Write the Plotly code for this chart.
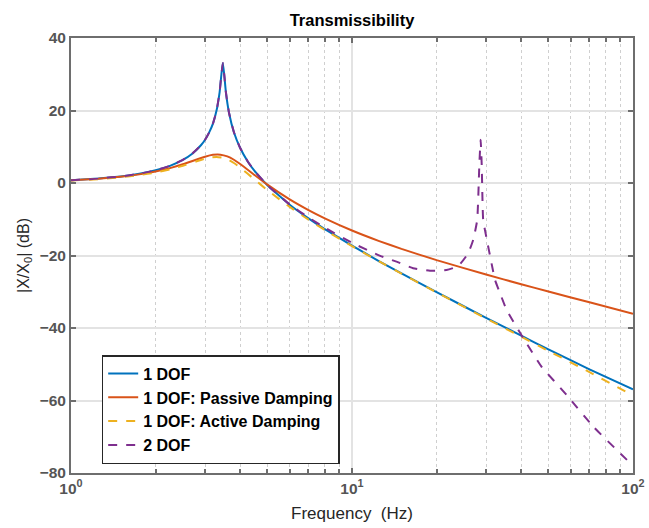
import plotly.graph_objects as go

# ---- data (frequency in Hz, magnitude in dB) ----
f_1dof = [1.0, 1.25, 1.5, 1.75, 2.0, 2.25, 2.5, 2.7, 2.9, 3.0, 3.1, 3.2, 3.3, 3.38, 3.43, 3.47,
          3.51, 3.56, 3.65, 3.8, 4.0, 4.25, 4.5, 5.0, 6.0, 7.0, 8.0, 10, 12.5, 15, 20, 30, 40, 50, 70, 100]
db_1dof = [0.75, 1.21, 1.80, 2.55, 3.50, 4.74, 6.36, 8.08, 10.41, 11.95, 13.90, 16.4, 20.2, 25.1, 30.0, 33.1,
           29.9, 24.9, 19.4, 14.0, 9.66, 6.02, 3.33, -0.64, -5.98, -9.74, -12.70, -17.27, -21.6, -24.95, -30.1,
           -37.2, -42.1, -45.9, -51.4, -56.9]

f_passive = [1.0, 1.25, 1.5, 1.75, 2.0, 2.25, 2.5, 2.8, 3.0, 3.2, 3.4, 3.6, 3.8, 4.0, 4.5, 5.0, 6.0, 7.0,
             8.0, 10, 12.5, 15, 20, 30, 40, 50, 70, 100]
db_passive = [0.74, 1.17, 1.72, 2.38, 3.18, 4.11, 5.16, 6.48, 7.26, 7.77, 7.82, 7.33, 6.41, 5.25, 2.21, -0.46,
              -4.53, -7.48, -9.75, -13.10, -16.02, -18.18, -21.28, -25.25, -27.92, -29.93, -32.92, -36.06]

f_active = [1.0, 1.25, 1.5, 1.75, 2.0, 2.25, 2.5, 2.8, 3.0, 3.15, 3.3, 3.5, 3.65, 3.8, 4.0, 4.5, 5.0, 6.0,
            7.0, 8.0, 10, 12.5, 15, 20, 30, 40, 50, 70, 100]
db_active = [0.67, 1.06, 1.56, 2.17, 2.90, 3.76, 4.75, 5.98, 6.70, 7.07, 7.20, 6.89, 6.32, 5.52, 4.26, 0.96,
             -1.97, -6.59, -10.10, -12.94, -17.41, -21.65, -25.0, -30.19, -37.37, -42.41, -46.31, -52.17, -58.6]

f_2dof = [1.0, 1.25, 1.5, 1.75, 2.0, 2.25, 2.5, 2.7, 2.9, 3.0, 3.1, 3.2, 3.3, 3.38, 3.43, 3.47,
          3.51, 3.56, 3.65, 3.8, 4.0, 4.25, 4.5, 5.0, 6.0, 7.0, 8.0, 10, 12.6, 14.4, 16.5, 18.95, 21.7,
          23.9, 25.9, 27.0, 27.9, 28.4, 28.7, 28.95, 29.3, 30.2, 31.4, 32.3, 33.6, 35.5, 40.7, 47.3,
          58.1, 72.2, 100]
db_2dof = [0.75, 1.21, 1.80, 2.55, 3.50, 4.74, 6.36, 8.08, 10.41, 11.95, 13.90, 16.4, 20.2, 25.1, 30.0, 33.1,
           29.9, 24.9, 19.4, 14.0, 9.66, 6.02, 3.33, -0.6, -5.9, -9.5, -12.3, -16.5, -20.1, -21.7, -23.5,
           -24.2, -24.0, -22.9, -19.4, -15.7, -10.2, 5.4, 11.9, 5.0, -10.2, -15.7, -22.3, -26.8, -30.3,
           -35.0, -42.8, -50.7, -58.5, -67.2, -78.0]

x_tickvals = [1, 10, 100]
x_ticktext = ["10<sup>0</sup>", "10<sup>1</sup>", "10<sup>2</sup>"]
x_minor = [2, 3, 4, 5, 6, 7, 8, 9, 20, 30, 40, 50, 60, 70, 80, 90]
y_tickvals = [-80, -60, -40, -20, 0, 20, 40]

series = [
    ("1 DOF", f_1dof, db_1dof, "#0072BD", "solid"),
    ("1 DOF: Passive Damping", f_passive, db_passive, "#D95319", "solid"),
    ("1 DOF: Active Damping", f_active, db_active, "#EDB120", "dash"),
    ("2 DOF", f_2dof, db_2dof, "#7E2F8E", "dash"),
]

fig = go.Figure()
for name, fx, fy, col, dash in series:
    fig.add_trace(go.Scatter(x=fx, y=fy, mode="lines", name=name,
                             line=dict(color=col, width=2, dash=dash, shape="spline", smoothing=0.4)))

FONT = "Liberation Sans, Arial, sans-serif"
axis_common = dict(showline=True, linecolor="#6e6e6e", linewidth=2, mirror="ticks",
                   ticks="inside", ticklen=5, tickwidth=1.5, tickcolor="#6e6e6e",
                   showgrid=True, gridcolor="#e3e3e3", gridwidth=1.5, zeroline=False,
                   automargin=False,
                   tickfont=dict(family=FONT, size=15.5, color="#555555", weight="bold"))

fig.update_xaxes(type="log", range=[0, 2], tickmode="array", tickvals=x_tickvals, ticktext=x_ticktext,
                 minor=dict(tickmode="array", tickvals=x_minor, ticks="inside", ticklen=4,
                            tickcolor="#6e6e6e", showgrid=True, gridcolor="#cfcfcf", griddash="dot",
                            gridwidth=1),
                 title=dict(text="Frequency  (Hz)", font=dict(family=FONT, size=17, color="#262626"),
                            standoff=12),
                 **axis_common)
fig.update_yaxes(range=[-80, 40], tickmode="array", tickvals=y_tickvals,
                 title=dict(text="|X/X<sub>0</sub>| (dB)", font=dict(family=FONT, size=16, color="#262626"),
                            standoff=6),
                 **axis_common)

fig.update_layout(
    width=649, height=528,
    margin=dict(l=71, r=16, t=38, b=55),
    paper_bgcolor="white", plot_bgcolor="white",
    title=dict(text="<b>Transmissibility</b>", x=0.5, xref="paper", xanchor="center",
               y=1 - 20 / 528, yanchor="middle", font=dict(family=FONT, size=16.5, color="#000000")),
    legend=dict(x=0.0546, y=0.271, xanchor="left", yanchor="top",
                bgcolor="white", bordercolor="#262626", borderwidth=1.5,
                font=dict(family=FONT, size=16, color="#000000", weight="bold"),
                tracegroupgap=0, itemwidth=30),
    showlegend=True,
)

fig.write_html("out.html")
